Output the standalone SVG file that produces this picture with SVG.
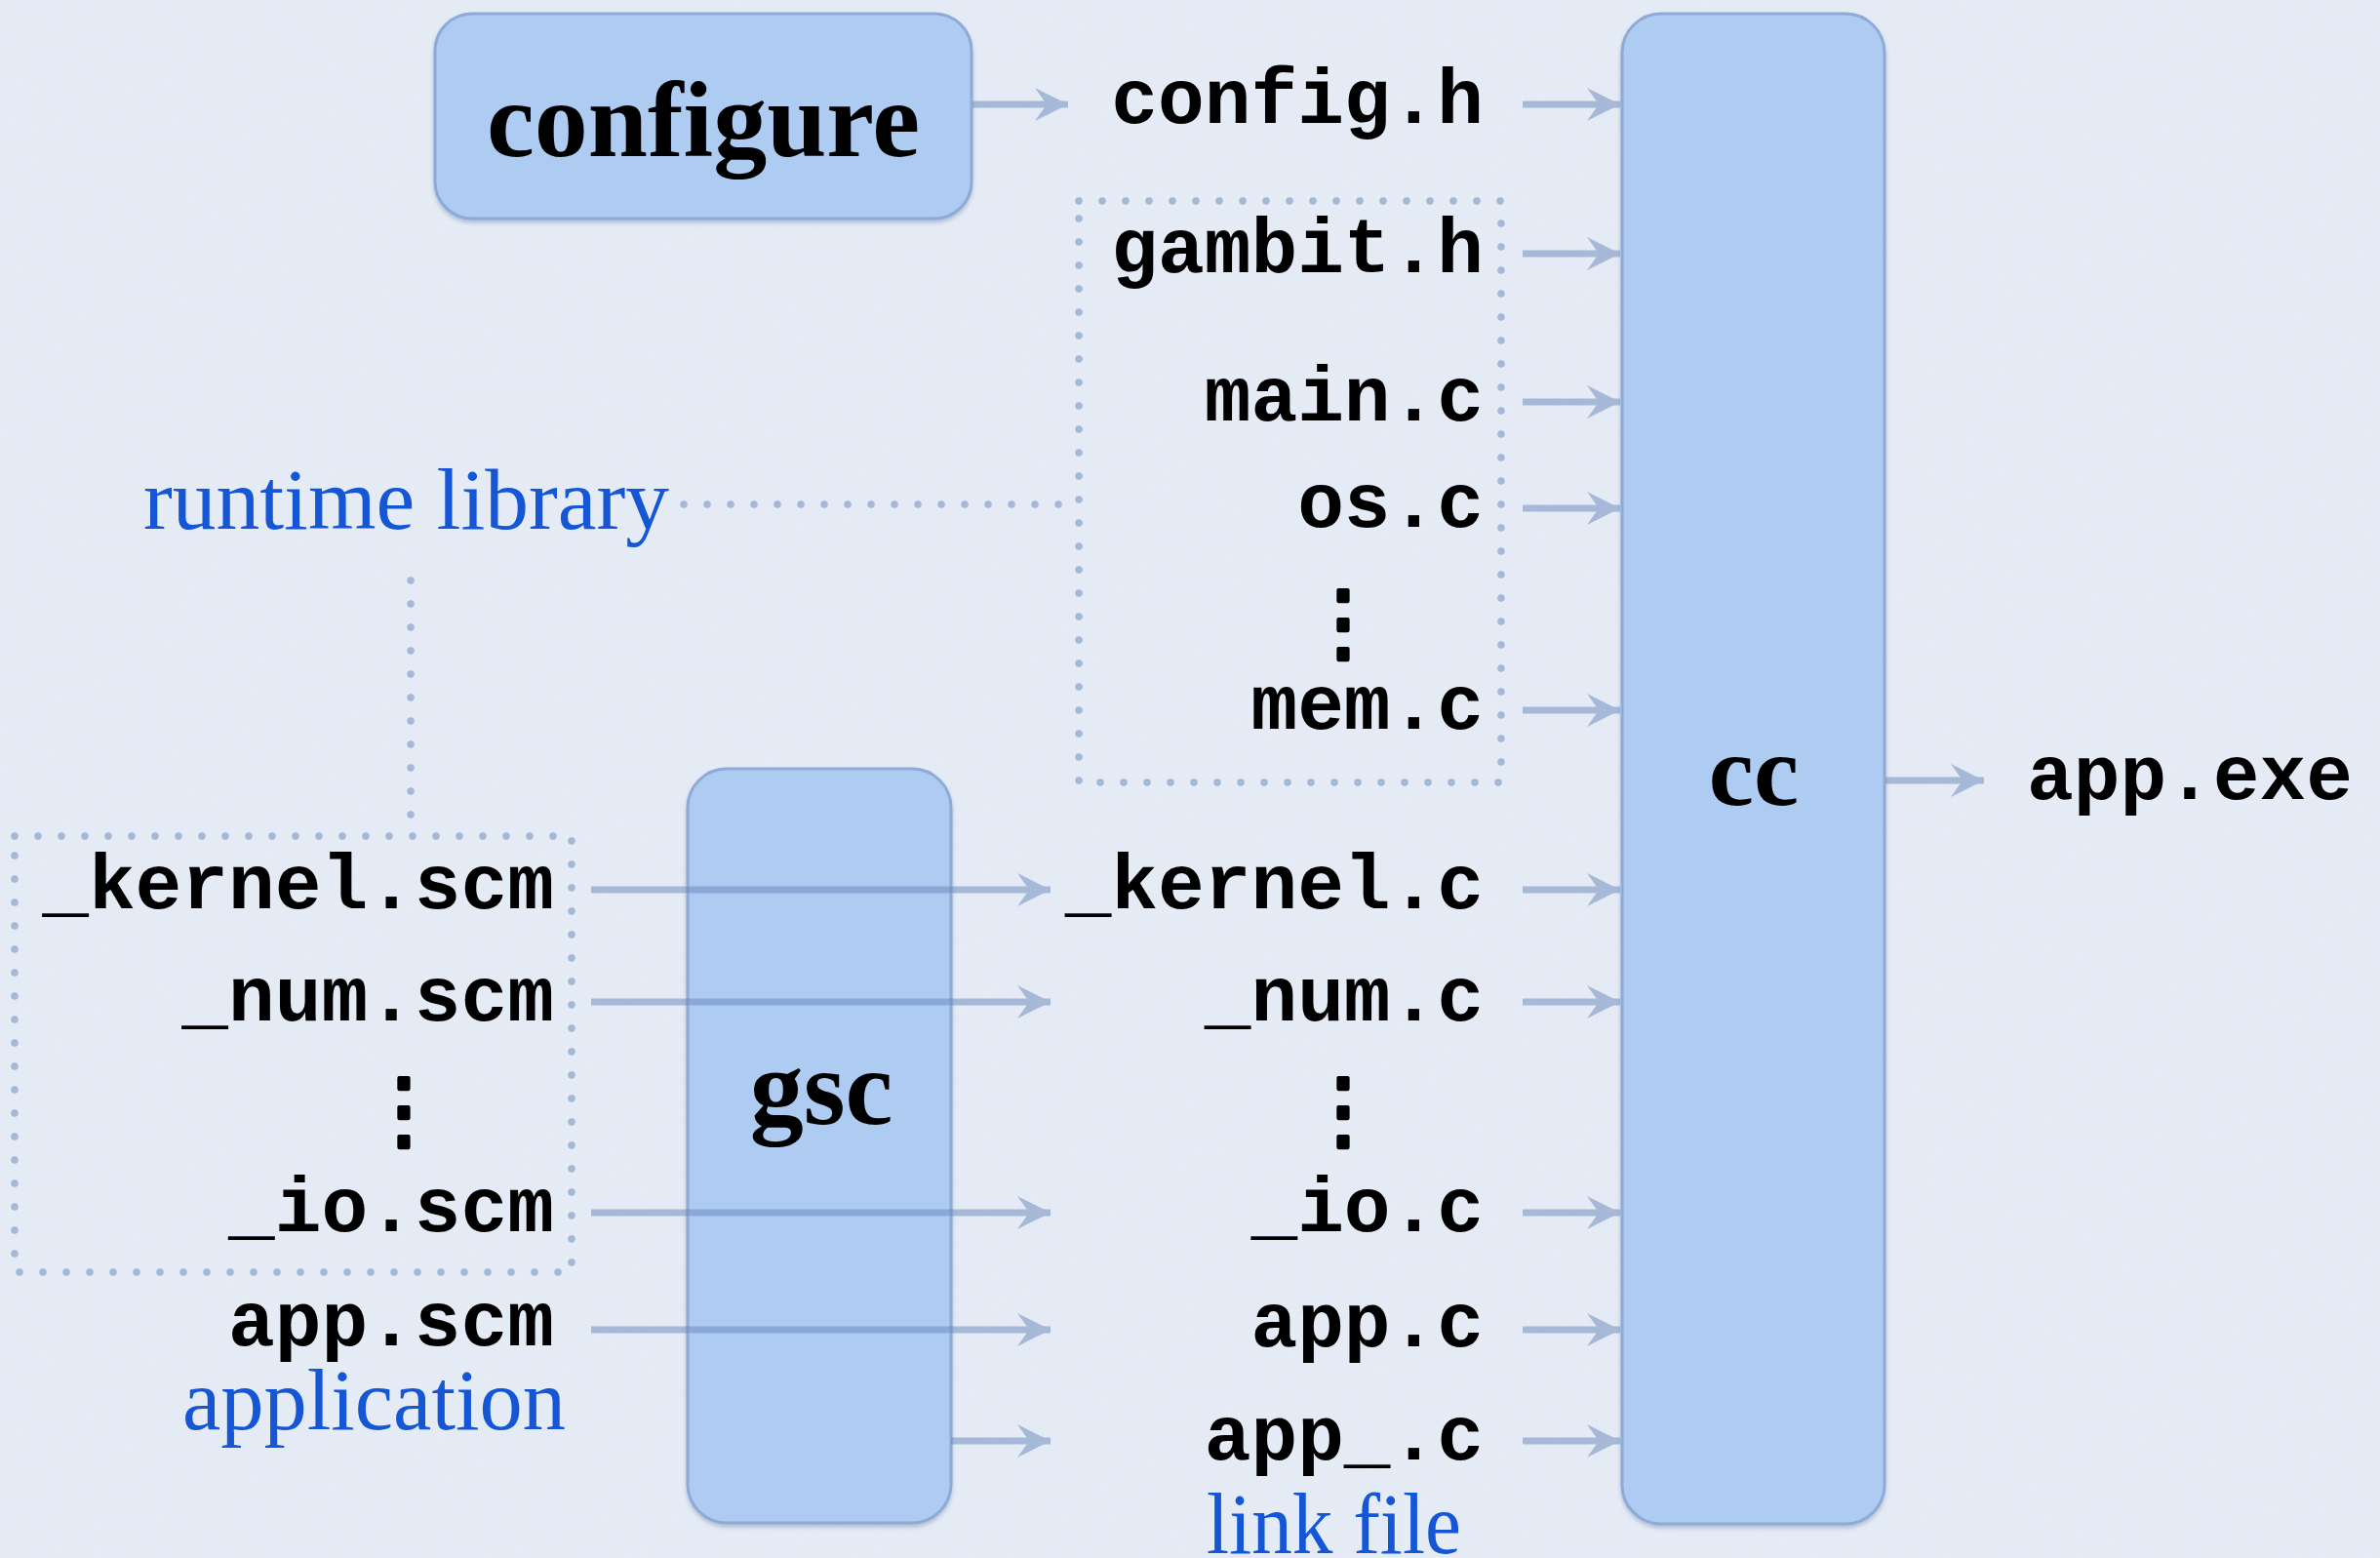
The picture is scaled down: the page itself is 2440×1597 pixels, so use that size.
<svg xmlns="http://www.w3.org/2000/svg" width="2440" height="1597" viewBox="0 0 2440 1597">
  <defs>
    <style>
      .bg { fill: #e5ecf6; }
      .box { fill: #aecbf2; stroke: #8eaad6; stroke-width: 3; filter: url(#shadow); }
      .tool { font-family: "Liberation Serif", "DejaVu Serif", serif; font-weight: bold; fill: #000; text-anchor: middle; }
      .file { font-family: "Liberation Mono", "DejaVu Sans Mono", monospace; font-weight: bold; font-size: 79.5px; fill: #000; }
      .r { text-anchor: end; }
      .note { font-family: "Liberation Serif", "DejaVu Serif", serif; font-size: 88px; fill: #1456d6; }
      .dots { fill: none; stroke: #a3b7d6; stroke-width: 7.5; stroke-linecap: round; stroke-dasharray: 0 24; }
      .ell { font-family: "Noto Sans CJK JP", "Noto Sans", sans-serif; font-weight: bold; font-size: 88px; fill: #000; stroke: #000; stroke-width: 1.5; stroke-linejoin: round; text-anchor: middle; }
      .arrow { fill: none; stroke: #6887ba; stroke-width: 7; marker-end: url(#head); }
    </style>
    <marker id="head" markerUnits="userSpaceOnUse" markerWidth="40" markerHeight="40" viewBox="-36 -20 40 40" refX="0" refY="0" orient="auto">
      <path d="M0,0 L-34,-17 L-22,0 L-34,17 Z" fill="#6887ba"/>
    </marker>
    <filter id="shadow" x="-10%" y="-5%" width="120%" height="110%">
      <feDropShadow dx="0" dy="3" stdDeviation="2" flood-color="#6f86ad" flood-opacity="0.45"/>
    </filter>
    <filter id="paper" x="0" y="0" width="100%" height="100%">
      <feTurbulence type="fractalNoise" baseFrequency="0.9 0.35" numOctaves="2" seed="7" result="n"/>
      <feColorMatrix in="n" type="matrix" values="0 0 0 0 0.55  0 0 0 0 0.6  0 0 0 0 0.7  0 0 0 -1.2 0.75"/>
    </filter>
  </defs>

  <!-- paper background -->
  <rect class="bg" x="0" y="0" width="2440" height="1597"/>
  <rect x="0" y="0" width="2440" height="1597" filter="url(#paper)" opacity="0.12"/>

  <!-- grouping outlines for the runtime library sources -->
  <g id="runtime-library-group">
    <rect class="dots" x="1106" y="206" width="433" height="596"/>
    <rect class="dots" x="15" y="857" width="571" height="447"/>
    <path class="dots" d="M701,517 H1106"/>
    <path class="dots" d="M421,595 V857"/>
  </g>

  <!-- tools -->
  <g id="configure">
    <rect class="box" x="446" y="14" width="550" height="210" rx="38" ry="38"/>
    <text class="tool" x="721" y="160" font-size="110">configure</text>
  </g>
  <g id="gsc">
    <rect class="box" x="705" y="788" width="270" height="773" rx="40" ry="40"/>
    <text class="tool" x="842" y="1152" font-size="110">gsc</text>
  </g>
  <g id="cc">
    <rect class="box" x="1663" y="14" width="269" height="1548" rx="40" ry="40"/>
    <text class="tool" x="1798" y="825" font-size="104">cc</text>
  </g>

  <!-- connectors -->
  <g id="connectors" opacity="0.5">
    <path class="arrow" d="M997,107 H1095"/>
    <path class="arrow" d="M1561,107 H1661"/>
    <path class="arrow" d="M1561,260 H1661"/>
    <path class="arrow" d="M1561,412 H1661"/>
    <path class="arrow" d="M1561,521 H1661"/>
    <path class="arrow" d="M1561,728 H1661"/>
    <path class="arrow" d="M1561,912 H1661"/>
    <path class="arrow" d="M1561,1027 H1661"/>
    <path class="arrow" d="M1561,1243 H1661"/>
    <path class="arrow" d="M1561,1363 H1661"/>
    <path class="arrow" d="M1561,1477 H1661"/>
    <path class="arrow" d="M606,912 H1077"/>
    <path class="arrow" d="M606,1027 H1077"/>
    <path class="arrow" d="M606,1243 H1077"/>
    <path class="arrow" d="M606,1363 H1077"/>
    <path class="arrow" d="M975,1477 H1077"/>
    <path class="arrow" d="M1933,800 H2034"/>
  </g>

  <!-- file names -->
  <g id="c-files">
    <text class="file r" x="1521" y="126">config.h</text>
    <text class="file r" x="1521" y="279">gambit.h</text>
    <text class="file r" x="1521" y="431">main.c</text>
    <text class="file r" x="1521" y="540">os.c</text>
    <text class="ell" x="1377" y="668">⋮</text>
    <text class="file r" x="1521" y="747">mem.c</text>
    <text class="file r" x="1521" y="931">_kernel.c</text>
    <text class="file r" x="1521" y="1046">_num.c</text>
    <text class="ell" x="1377" y="1168">⋮</text>
    <text class="file r" x="1521" y="1262">_io.c</text>
    <text class="file r" x="1521" y="1380">app.c</text>
    <text class="file r" x="1521" y="1496">app_.c</text>
  </g>
  <g id="scm-files">
    <text class="file r" x="568" y="931">_kernel.scm</text>
    <text class="file r" x="568" y="1046">_num.scm</text>
    <text class="ell" x="414" y="1168">⋮</text>
    <text class="file r" x="568" y="1262">_io.scm</text>
    <text class="file r" x="568" y="1379">app.scm</text>
  </g>
  <g id="app-exe">
    <text class="file" x="2078" y="819">app.exe</text>
  </g>

  <!-- annotations -->
  <g id="labels">
    <text class="note" x="147" y="542" font-size="86" textLength="539" lengthAdjust="spacingAndGlyphs">runtime library</text>
    <text class="note" x="187" y="1465" textLength="393" lengthAdjust="spacingAndGlyphs">application</text>
    <text class="note" x="1237" y="1592" textLength="261" lengthAdjust="spacingAndGlyphs">link file</text>
  </g>
</svg>
